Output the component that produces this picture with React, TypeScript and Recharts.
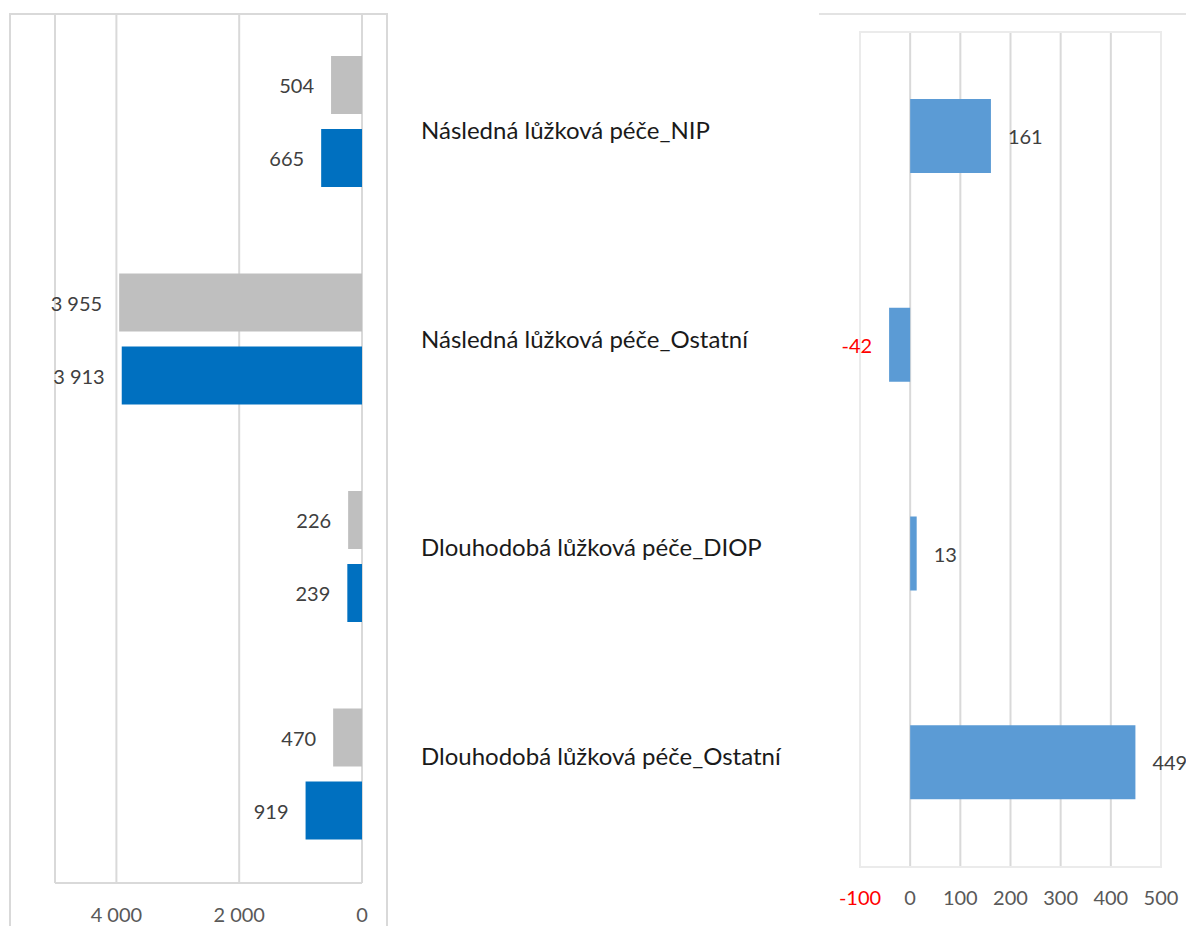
import { Bar, BarChart, CartesianGrid, LabelList, ReferenceArea, XAxis, YAxis } from 'recharts';

const categories = [
  'Následná lůžková péče_NIP',
  'Následná lůžková péče_Ostatní',
  'Dlouhodobá lůžková péče_DIOP',
  'Dlouhodobá lůžková péče_Ostatní',
];
const greyValues = [504, 3955, 226, 470];
const blueValues = [665, 3913, 239, 919];
const diffValues = [161, -42, 13, 449];

const leftTicks = [0, 2000, 4000, 5000];
const rightTicks = [-100, 0, 100, 200, 300, 400, 500];

const FONT = 'Lato, "Open Sans", sans-serif';
const GRID = '#D9D9D9';

const leftData = categories.map((name, i) => ({ name, grey: greyValues[i], blue: blueValues[i] }));
const rightData = categories.map((name, i) => ({ name, diff: diffValues[i] }));

const fmt = (v: number) => {
  const s = Math.abs(v).toString().replace(/\B(?=(\d{3})+(?!\d))/g, ' ');
  return v < 0 ? '-' + s : s;
};

function LeftTick({ x, y, payload }: any) {
  if (payload.value === 5000) return null;
  return (
    <text x={x} y={y} dy={33} textAnchor="middle" fill="#595959" fontSize={20} fontFamily={FONT}>
      {fmt(payload.value)}
    </text>
  );
}

function RightTick({ x, y, payload }: any) {
  return (
    <text x={x} y={y} dy={32} textAnchor="middle" fill={payload.value < 0 ? '#FF0000' : '#595959'} fontSize={20} fontFamily={FONT}>
      {fmt(payload.value)}
    </text>
  );
}

// category names sit in the gap between the two charts
function CategoryTick({ y, payload }: any) {
  return (
    <text x={21} y={y} dy={-7} dominantBaseline="central" fill="#1a1a1a" fontSize={24} fontFamily={FONT}>
      {payload.value}
    </text>
  );
}

function LeftLabel({ x, y, width, height, value }: any) {
  const left = Math.min(x, x + width);
  return (
    <text x={left - 17} y={y + height / 2} dominantBaseline="central" textAnchor="end" fill="#404040" fontSize={20} fontFamily={FONT}>
      {fmt(value)}
    </text>
  );
}

function RightLabel({ x, y, width, height, value }: any) {
  const neg = value < 0;
  const lo = Math.min(x, x + width);
  const hi = Math.max(x, x + width);
  return (
    <text
      x={neg ? lo - 17 : hi + 17}
      y={y + height / 2}
      dominantBaseline="central"
      textAnchor={neg ? 'end' : 'start'}
      fill={neg ? '#FF0000' : '#404040'}
      fontSize={20}
      fontFamily={FONT}
    >
      {fmt(value)}
    </text>
  );
}

export default function App() {
  return (
    <div style={{ position: 'fixed', left: 0, top: 0, width: 1186, height: 926, overflow: 'hidden', background: '#fff', fontFamily: FONT }}>
      <div style={{ position: 'absolute', left: 9, top: 13, width: 379, height: 940, border: `2px solid ${GRID}`, boxSizing: 'border-box' }} />
      <div style={{ position: 'absolute', left: 819, top: 13, width: 367, height: 2, background: '#E3E3E3' }} />

      <div style={{ position: 'absolute', left: 0, top: 0 }}>
        <BarChart width={400} height={926} data={leftData} layout="vertical" barSize={58} barGap={15}
          margin={{ top: 13, right: 38, bottom: 13, left: 55 }}>
          <CartesianGrid horizontal={false} stroke={GRID} strokeWidth={2} />
          <XAxis type="number" domain={[0, 5000]} ticks={leftTicks} reversed height={30}
            axisLine={{ stroke: GRID, strokeWidth: 2 }} tickLine={false} tickMargin={0} tick={<LeftTick />} interval={0} />
          <YAxis type="category" dataKey="name" hide />
          <Bar dataKey="grey" fill="#BFBFBF" isAnimationActive={false}>
            <LabelList dataKey="grey" content={<LeftLabel />} />
          </Bar>
          <Bar dataKey="blue" fill="#0070C0" isAnimationActive={false}>
            <LabelList dataKey="blue" content={<LeftLabel />} />
          </Bar>
        </BarChart>
      </div>

      <div style={{ position: 'absolute', left: 400, top: 0 }}>
        <BarChart width={786} height={926} data={rightData} layout="vertical" barSize={74}
          margin={{ top: 32, right: 25, bottom: 29, left: 20 }}>
          <ReferenceArea x1={-100} x2={500} fill="none" stroke="#EBEBEB" strokeWidth={2} />
          <CartesianGrid horizontal={false} stroke={GRID} strokeWidth={2} verticalValues={[0, 100, 200, 300, 400]} />
          <XAxis type="number" domain={[-100, 500]} ticks={rightTicks} height={30}
            axisLine={false} tickLine={false} tickMargin={0} tick={<RightTick />} interval={0} />
          <YAxis type="category" dataKey="name" width={440} axisLine={false} tickLine={false} tick={<CategoryTick />} />
          <Bar dataKey="diff" fill="#5B9BD5" isAnimationActive={false}>
            <LabelList dataKey="diff" content={<RightLabel />} />
          </Bar>
        </BarChart>
      </div>
    </div>
  );
}
